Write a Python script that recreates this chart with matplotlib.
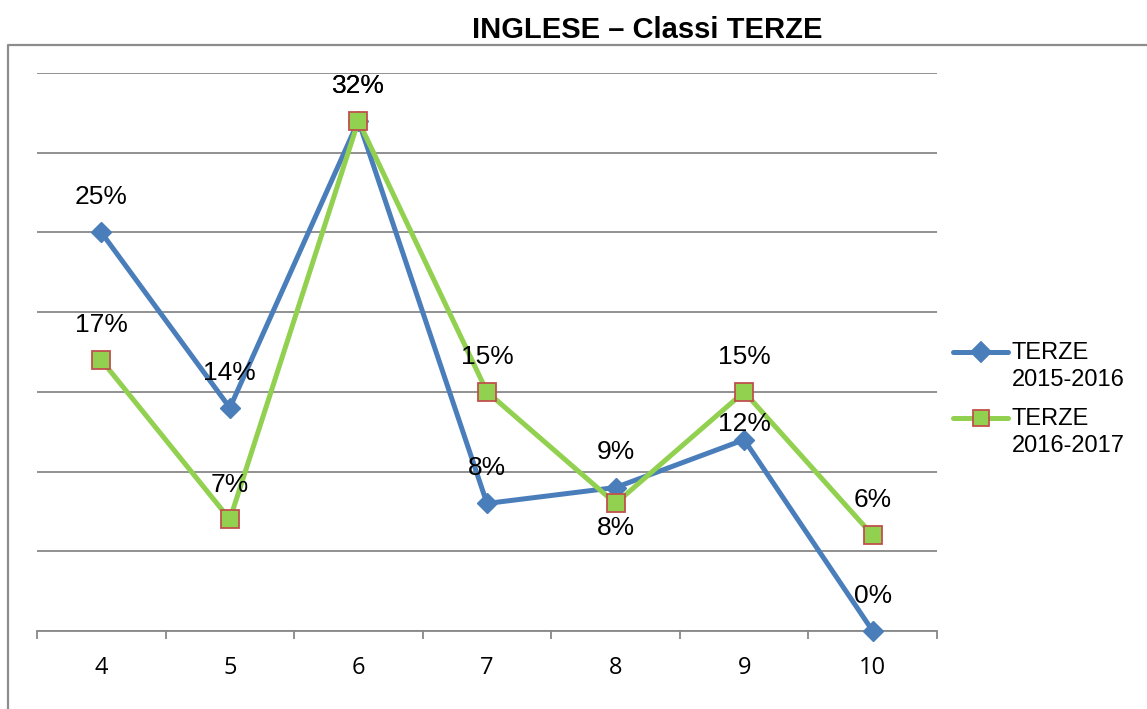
import numpy as np
import matplotlib.pyplot as plt
from matplotlib.lines import Line2D

# =========================================================
# DATA
# =========================================================
voti       = ["4", "5", "6", "7", "8", "9", "10"]
terze_1516 = [25, 14, 32, 8, 9, 12, 0]
terze_1617 = [17, 7, 32, 15, 8, 15, 6]
labels     = ["TERZE\n2015-2016", "TERZE\n2016-2017"]

BLUE  = "#4A7EBB"
GREEN = "#92D050"
RED   = "#C0504D"
GRID  = "#888888"

W, H = 1147, 709

# label offsets in px (dy > 0 = above point)
off_blue  = [35, 35, 35, 35, 36, 16, 35]
off_green = [35, 34, 35, 35, -25, 35, 35]

# =========================================================
# FIGURE
# =========================================================
fig = plt.figure(figsize=(W / 100, H / 100), dpi=100)
ax = fig.add_axes([37 / W, 1 - 631 / H, 900 / W, 558 / H])

x = np.arange(len(voti))
ax.plot(x, terze_1516, color=BLUE, lw=3.6, marker="D", ms=10,
        mfc=BLUE, mec=BLUE, zorder=3, clip_on=False)
ax.plot(x, terze_1617, color=GREEN, lw=3.6, marker="s", ms=13,
        mfc=GREEN, mec=RED, mew=1.3, zorder=4, clip_on=False)

px = 72 / 100
for i in range(len(voti)):
    ax.annotate(f"{terze_1516[i]}%", (x[i], terze_1516[i]),
                xytext=(0, off_blue[i] * px), textcoords="offset points",
                ha="center", va="center", fontsize=19,
                family="Liberation Sans", zorder=5)
    ax.annotate(f"{terze_1617[i]}%", (x[i], terze_1617[i]),
                xytext=(0, off_green[i] * px), textcoords="offset points",
                ha="center", va="center", fontsize=19,
                family="Liberation Sans", zorder=5)

ax.set_xlim(-0.5, len(voti) - 0.5)
ax.set_ylim(0, 35)
ax.set_yticks(np.arange(0, 36, 5))
ax.yaxis.grid(True, color=GRID, lw=1.3)
ax.set_axisbelow(True)
ax.tick_params(axis="y", left=False, labelleft=False)

ax.set_xticks(x)
ax.set_xticklabels(voti, fontsize=17, family="Open Sans")
ax.set_xticks(np.arange(-0.5, len(voti), 1), minor=True)
ax.tick_params(axis="x", which="major", length=0, pad=18)
ax.tick_params(axis="x", which="minor", length=6, width=1.3, color=GRID)

for s in ["top", "left", "right"]:
    ax.spines[s].set_visible(False)
ax.spines["bottom"].set_color(GRID)
ax.spines["bottom"].set_linewidth(1.3)

# outer frame (left + top)
fig.add_artist(Line2D([8 / W, 8 / W, 1], [0, 1 - 45 / H, 1 - 45 / H],
                      transform=fig.transFigure, color="#8C8C8C", lw=1.6))

fig.text(647 / W, 1 - 30 / H, "INGLESE \u2013 Classi TERZE", ha="center",
         va="center", fontsize=21, fontweight="bold", family="Liberation Sans")

# legend drawn by hand (marker aligned with first text line)
for lab, col, mk, ms, mec, y0 in [(labels[0], BLUE, "D", 10, BLUE, 352),
                                  (labels[1], GREEN, "s", 12, RED, 418)]:
    fig.add_artist(Line2D([953 / W, 1008 / W], [1 - y0 / H] * 2,
                          transform=fig.transFigure, color=col, lw=3.6,
                          solid_capstyle="round"))
    fig.add_artist(Line2D([980.5 / W], [1 - y0 / H], transform=fig.transFigure,
                          marker=mk, ms=ms, mfc=col, mec=mec, mew=1.3, lw=0))
    fig.text(1012 / W, 1 - (y0 - 10) / H, lab, ha="left", va="top",
             fontsize=17, family="Liberation Sans", linespacing=1.3)

plt.savefig("out.png", dpi=100)
plt.close()
